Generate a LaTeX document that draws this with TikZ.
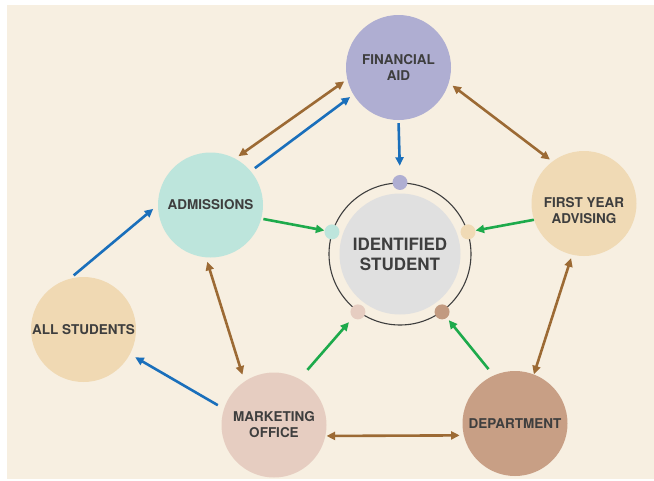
\documentclass[tikz,border=0pt]{standalone}
\usepackage{fontspec}
\setsansfont{TeX Gyre Heros}
\usetikzlibrary{arrows.meta}

\definecolor{paper}{HTML}{F7EFE1}
\definecolor{ink}{HTML}{3E3E3E}
\definecolor{finc}{HTML}{AFAED2}
\definecolor{admc}{HTML}{BDE5DC}
\definecolor{fyac}{HTML}{F0DAB5}
\definecolor{allc}{HTML}{F0D9B3}
\definecolor{mktc}{HTML}{E6CDC1}
\definecolor{depc}{HTML}{C89F85}
\definecolor{depdot}{HTML}{C29A80}
\definecolor{idc}{HTML}{E0E0E0}
\definecolor{brn}{HTML}{9C6A34}
\definecolor{blu}{HTML}{1A6FBB}
\definecolor{grn}{HTML}{1DAA4B}

\begin{document}
\begin{tikzpicture}[x=1pt,y=-1pt,
    unit/.style={circle,minimum size=105pt,inner sep=0pt,align=center,
                 font=\sffamily\bfseries\fontsize{13.5}{16}\selectfont,text=ink},
    pin/.style={circle,minimum size=15pt,inner sep=0pt},
    two/.style={line width=2.6pt,draw=brn,
                {Triangle[length=8.5pt,width=8pt]}-{Triangle[length=8.5pt,width=8pt]}},
    one/.style={line width=2.6pt,draw=#1,-{Triangle[length=8.5pt,width=8pt]}}]

  \useasboundingbox (0,0) rectangle (654,480);
  \fill[white] (0,0) rectangle (654,480);
  \fill[paper] (7,5) rectangle (654,479);

  % offices round the student
  \node[unit,fill=finc] (fin) at (398.5,67.5) {FINANCIAL\\AID};
  \node[unit,fill=admc] (adm) at (210.5,205)  {ADMISSIONS};
  \node[unit,fill=fyac] (fya) at (584,203.5)  {};
  \node[unit]                 at ([yshift=-7.5pt]fya.center) {FIRST YEAR\\ADVISING};
  \node[unit,fill=allc] (all) at (83.5,329.5) {ALL STUDENTS};
  \node[unit,fill=mktc] (mkt) at (274,425)    {MARKETING\\OFFICE};
  \node[unit,fill=depc] (dep) at (515,423.5)  {DEPARTMENT};

  % the student with its ring of contact points
  \node[circle,draw=ink,line width=1.1pt,minimum size=142pt,inner sep=0pt]
        (ring) at (400,254) {};
  \node[unit,fill=idc,minimum size=121pt,
        font=\sffamily\bfseries\fontsize{17}{20}\selectfont] (id) at (400,254)
        {IDENTIFIED\\STUDENT};
  \node[pin,fill=finc]   (pfin) at (ring.90)  {};
  \node[pin,fill=admc]   (padm) at (ring.162) {};
  \node[pin,fill=fyac]   (pfya) at (ring.18)  {};
  \node[pin,fill=mktc]   (pmkt) at (ring.234) {};
  \node[pin,fill=depdot] (pdep) at (ring.306) {};

  % two-way links
  \draw[two,shorten <=4pt,shorten >=3.5pt] (adm.62)  -- (fin.193);
  \draw[two,shorten <=4.5pt,shorten >=3pt] (fin.-17) -- (fya.127);
  \draw[two,shorten <=4.5pt,shorten >=7pt] (adm.265) -- (mkt.124);
  \draw[two,shorten <=3.5pt]               (fya.257) -- (dep.69);
  \draw[two,shorten <=1pt,shorten >=4pt]   (mkt.-12) -- (dep.193);

  % referrals
  \draw[one=blu,shorten <=5pt,shorten >=4pt] (adm.40)  -- (fin.211);
  \draw[one=blu,shorten <=3pt,shorten >=9pt] (fin.270) -- (pfin.90);
  \draw[one=blu,shorten <=5pt,shorten >=6pt] (all.105) -- (adm.180);
  \draw[one=blu,shorten <=7pt,shorten >=6pt] (mkt.162) -- (all.-28);

  % contact with the student
  \draw[one=grn,shorten <=2pt]                (adm.-15) -- (padm);
  \draw[one=grn]                              (fya.198) -- (pfya);
  \draw[one=grn,shorten <=12pt,shorten >=6pt] (mkt.61)  -- (pmkt);
  \draw[one=grn,shorten <=8pt,shorten >=3pt]  (dep.114) -- (pdep);
\end{tikzpicture}
\end{document}
